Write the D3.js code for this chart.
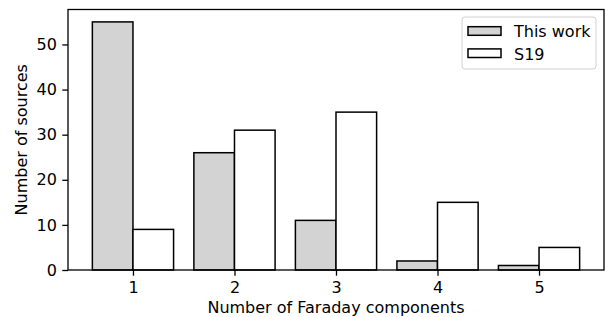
<!DOCTYPE html>
<html><head><meta charset="utf-8">
<script src="https://cdn.jsdelivr.net/npm/d3@7"></script>
<style>body{margin:0;background:#fff}svg{display:block;font-family:"DejaVu Sans",sans-serif}</style>
</head><body><svg id="c" width="614" height="317"></svg>
<script>
const categories = [1, 2, 3, 4, 5];
const thisWork = [55, 26, 11, 2, 1];
const s19 = [9, 31, 35, 15, 5];
const yTicks = [0, 10, 20, 30, 40, 50];
const seriesNames = ["This work", "S19"];
const seriesColors = ["#d3d3d3", "#ffffff"];

const svg = d3.select("#c");
const L = 68, R = 604, T = 9.5, B = 270;
const barW = 0.4;
const FS = 16;
const x = d3.scaleLinear().domain([0.36, 5.64]).range([L, R]);
const y = d3.scaleLinear().domain([0, 57.75]).range([B, T]);

const series = [thisWork, s19];
series.forEach((vals, si) => {
  svg.append("g").selectAll("rect").data(categories).join("rect")
    .attr("x", (c) => x(c - barW + si * barW))
    .attr("width", (c) => x(c + barW) - x(c))
    .attr("y", (c, i) => y(vals[i]))
    .attr("height", (c, i) => y(0) - y(vals[i]))
    .attr("fill", seriesColors[si])
    .attr("stroke", "#000").attr("stroke-width", 1.5);
});

// axes
const xa = svg.append("g").attr("transform", `translate(0,${B})`)
  .call(d3.axisBottom(x).tickValues(categories).tickFormat(d3.format("d")).tickSize(5.7).tickPadding(5.7));
const ya = svg.append("g").attr("transform", `translate(${L},0)`)
  .call(d3.axisLeft(y).tickValues(yTicks).tickSize(5.7).tickPadding(5.5));
[xa, ya].forEach(a => {
  a.select(".domain").remove();
  a.selectAll("line").attr("stroke", "#000").attr("stroke-width", 1.3);
  a.selectAll("text").attr("font-size", FS).attr("fill", "#000").attr("font-family", "DejaVu Sans");
});
xa.selectAll("text").attr("dy", null).attr("y", 22.6);
// frame
svg.append("rect").attr("x", L).attr("y", T).attr("width", R - L).attr("height", B - T)
  .attr("fill", "none").attr("stroke", "#000").attr("stroke-width", 1.3);

svg.append("text").attr("x", (L + R) / 2).attr("y", 312.6).attr("text-anchor", "middle")
  .attr("font-size", FS).text("Number of Faraday components");
svg.append("text").attr("transform", `translate(27.3,${(T + B) / 2}) rotate(-90)`).attr("text-anchor", "middle")
  .attr("font-size", FS).text("Number of sources");

// legend
const lg = svg.append("g");
lg.append("rect").attr("x", 462).attr("y", 17).attr("width", 134).attr("height", 52).attr("rx", 3)
  .attr("fill", "#fff").attr("fill-opacity", 0.8).attr("stroke", "#d0d0d0").attr("stroke-width", 1);
seriesNames.forEach((n, i) => {
  lg.append("rect").attr("x", 468).attr("y", 26.7 + i * 22.2).attr("width", 33).attr("height", 8.6)
    .attr("fill", seriesColors[i]).attr("stroke", "#000").attr("stroke-width", 1.5);
  lg.append("text").attr("x", 514).attr("y", 37.3 + i * 22.3).attr("font-size", FS).text(n);
});
</script></body></html>
